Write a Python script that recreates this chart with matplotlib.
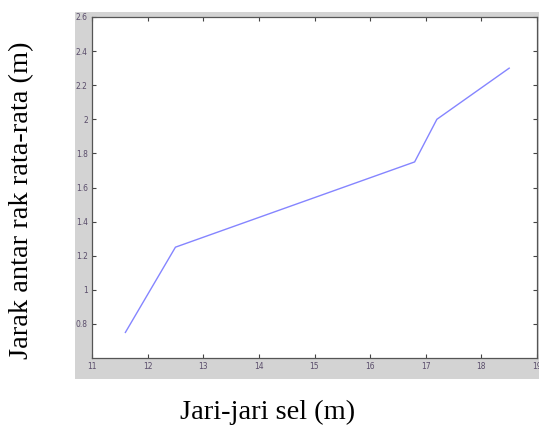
import matplotlib
matplotlib.use("Agg")
import matplotlib.pyplot as plt

# jari-jari sel vs jarak antar rak rata-rata
jari_jari = [11.6, 12.5, 16.8, 17.2, 18.5]
jarak = [0.75, 1.25, 1.75, 2.0, 2.3]

x_ticks = [11, 12, 13, 14, 15, 16, 17, 18, 19]
y_ticks = [0.8, 1.0, 1.2, 1.4, 1.6, 1.8, 2.0, 2.2, 2.4, 2.6]
y_ticklabels = ['0.8', '1', '1.2', '1.4', '1.6', '1.8', '2', '2.2', '2.4', '2.6']

fig = plt.figure(figsize=(5.39, 4.32), dpi=100)
W, H = 539, 432

# latar abu-abu seperti jendela matlab
bg = fig.add_axes([75 / W, 1 - 379 / H, 1 - 75 / W, (379 - 12) / H], zorder=-1)
bg.set_facecolor('#d3d3d3')
bg.set_xticks([])
bg.set_yticks([])
for s in bg.spines.values():
    s.set_visible(False)

ax = fig.add_axes([92 / W, 1 - 358 / H, (537 - 92) / W, (358 - 17) / H])
ax.plot(jari_jari, jarak, color='#8585ff', lw=1.0)

ax.set_xlim(11, 19)
ax.set_ylim(0.6, 2.6)
ax.set_xticks(x_ticks)
ax.set_yticks(y_ticks)
ax.set_yticklabels(y_ticklabels)
ax.tick_params(direction='in', top=True, right=True, length=3, width=0.8,
               labelsize=5.5, labelcolor='#5a4d6b', color='#444444', pad=3)
for s in ax.spines.values():
    s.set_color('#555555')
    s.set_linewidth(0.9)

fig.text(22 / W, 1 - 200 / H, 'Jarak antar rak rata-rata (m)', rotation=90,
         ha='center', va='center', fontsize=20.5, family='Liberation Serif')
fig.text(268 / W, 1 - 412 / H, 'Jari-jari sel (m)', ha='center', va='center',
         fontsize=20.5, family='Liberation Serif')

fig.savefig('out.png', dpi=100)
